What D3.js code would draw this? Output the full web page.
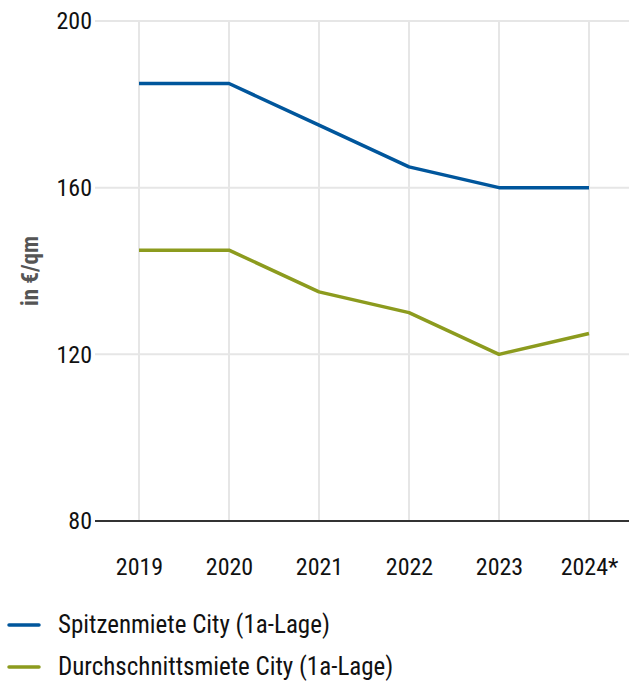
<!DOCTYPE html>
<html>
<head>
<meta charset="utf-8">
<script src="https://cdn.jsdelivr.net/npm/d3@7"></script>
<style>
  body { margin: 0; background: #fff; }
  text { font-family: "Roboto Condensed", Roboto, sans-serif; fill: #111; }
</style>
</head>
<body>
<div id="chart"></div>
<script>
// data
var years = ["2019", "2020", "2021", "2022", "2023", "2024*"];
var spitzenmiete = [185, 185, 175, 165, 160, 160];
var durchschnittsmiete = [145, 145, 135, 130, 120, 125];
var yTicks = [80, 120, 160, 200];
var seriesNames = ["Spitzenmiete City (1a-Lage)", "Durchschnittsmiete City (1a-Lage)"];
var seriesColors = ["#00569c", "#8c9b1e"];

var W = 629, H = 681;
var margin = {t: 21, r: 0, b: 160, l: 95};
var width = W - margin.l - margin.r,
    height = H - margin.t - margin.b;

var svg = d3.select('#chart').append('svg')
    .attr('width', W)
    .attr('height', H);

var x = d3.scalePoint().domain(years).range([44, 494]);
var y = d3.scaleLinear().domain([80, 200]).range([height, 0]);

var g = svg.append('g').attr('transform', 'translate(' + margin.l + ',' + margin.t + ')');

// grid lines
g.append('g').selectAll('line.vgrid')
    .data(years).enter().append('line')
    .attr('x1', function(d){return x(d)}).attr('x2', function(d){return x(d)})
    .attr('y1', 0).attr('y2', height)
    .attr('stroke', '#e6e6e6').attr('stroke-width', 2);

g.append('g').selectAll('line.hgrid')
    .data(yTicks.filter(function(d){return d !== 80})).enter().append('line')
    .attr('x1', 0).attr('x2', width)
    .attr('y1', function(d){return y(d)}).attr('y2', function(d){return y(d)})
    .attr('stroke', '#e6e6e6').attr('stroke-width', 2);

// y axis labels
var yAxis = d3.axisLeft(y).tickValues(yTicks).tickSize(0).tickPadding(3);
g.append('g').call(yAxis)
    .call(function(s){ s.select('.domain').remove(); })
    .selectAll('text')
    .style('font-size', '24px').attr('fill', '#111');

// x axis baseline
g.append('line')
    .attr('x1', 0).attr('x2', width)
    .attr('y1', y(80)).attr('y2', y(80))
    .attr('stroke', '#333').attr('stroke-width', 2);

var xAxis = d3.axisBottom(x).tickSize(0).tickPadding(37);
g.append('g').attr('transform', 'translate(0,' + height + ')').call(xAxis)
    .call(function(s){ s.select('.domain').remove(); })
    .selectAll('text')
    .style('font-size', '24px').attr('fill', '#111');

// y title
svg.append('text')
    .attr('transform', 'translate(38,271) rotate(-90)')
    .attr('text-anchor', 'middle')
    .style('font-size', '23px').style('font-weight', 'bold')
    .style('fill', '#555')
    .text('in €/qm');

// lines
var line = d3.line()
    .x(function(d, i){return x(years[i])})
    .y(function(d){return y(d)});

[spitzenmiete, durchschnittsmiete].forEach(function(s, i){
    g.append('path')
        .datum(s)
        .attr('d', line)
        .attr('fill', 'none')
        .attr('stroke', seriesColors[i])
        .attr('stroke-width', 3.5)
        .attr('stroke-linejoin', 'round');
});

// legend
var legend = svg.append('g').attr('transform', 'translate(9,625)');
var items = legend.selectAll('g').data(seriesNames).enter().append('g')
    .attr('transform', function(d, i){return 'translate(0,' + (i * 42) + ')'});
items.append('line')
    .attr('x1', 0).attr('x2', 30).attr('y1', 0).attr('y2', 0)
    .attr('stroke', function(d, i){return seriesColors[i]})
    .attr('stroke-width', 3.5).attr('stroke-linecap', 'round');
items.append('text')
    .attr('x', 49).attr('y', 0).attr('dy', '0.33em')
    .style('font-size', '25px')
    .text(function(d){return d});
</script>
</body>
</html>
